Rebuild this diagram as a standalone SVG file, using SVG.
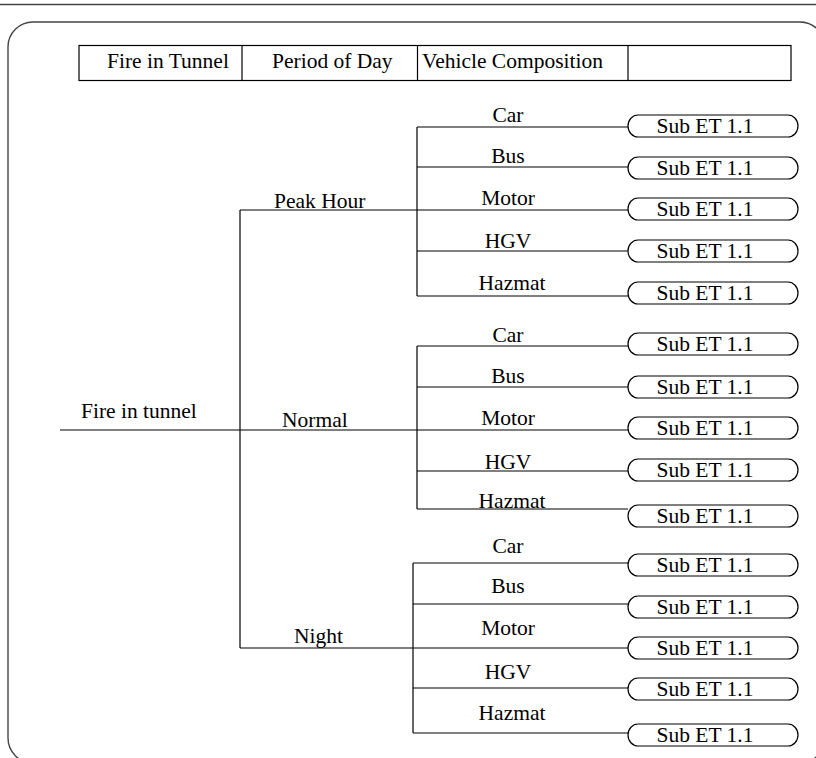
<svg xmlns="http://www.w3.org/2000/svg" width="816" height="758" viewBox="0 0 816 758" font-family="Liberation Serif, Times New Roman, Times, serif">
<style>
text{font-family:'Liberation Serif','Times New Roman',Times,serif;font-size:21.5px;fill:#000}
.m{text-anchor:middle}
.ln{stroke:#000;stroke-width:1.2;fill:none}
.box{fill:#fff;stroke:#000;stroke-width:1.2}
.frame{fill:none;stroke:#444;stroke-width:1.4}
</style>
<rect width="816" height="758" fill="#fff"/>
<line x1="0" y1="4.5" x2="816" y2="4.5" stroke="#444" stroke-width="1.6"/>
<rect class="frame" x="8" y="22" width="817" height="741" rx="25" ry="25"/>
<g id="header">
<rect x="79" y="45.5" width="712" height="35" fill="none" stroke="#000" stroke-width="1.2"/>
<line class="ln" x1="242" y1="45.5" x2="242" y2="80.5"/>
<line class="ln" x1="417.5" y1="45.5" x2="417.5" y2="80.5"/>
<line class="ln" x1="628" y1="45.5" x2="628" y2="80.5"/>
<text x="107" y="68">Fire in Tunnel</text>
<text x="272" y="68">Period of Day</text>
<text x="422" y="68">Vehicle Composition</text>
</g>
<g id="connectors" class="ln">
<line x1="60" y1="430" x2="240" y2="430"/>
<line x1="240" y1="210" x2="240" y2="648"/>
<line x1="240" y1="210" x2="417" y2="210"/>
<line x1="240" y1="430" x2="417" y2="430"/>
<line x1="240" y1="648" x2="413" y2="648"/>
<line x1="417" y1="127" x2="417" y2="296"/>
<line x1="417" y1="127" x2="628" y2="127"/>
<line x1="417" y1="167" x2="628" y2="167"/>
<line x1="417" y1="210" x2="628" y2="210"/>
<line x1="417" y1="251" x2="628" y2="251"/>
<line x1="417" y1="296" x2="628" y2="296"/>
<line x1="417" y1="346" x2="417" y2="509"/>
<line x1="417" y1="346" x2="628" y2="346"/>
<line x1="417" y1="387" x2="628" y2="387"/>
<line x1="417" y1="430" x2="628" y2="430"/>
<line x1="417" y1="471" x2="628" y2="471"/>
<line x1="417" y1="509" x2="628" y2="509"/>
<line x1="413" y1="563" x2="413" y2="733"/>
<line x1="413" y1="563" x2="628" y2="563"/>
<line x1="413" y1="604" x2="628" y2="604"/>
<line x1="413" y1="648" x2="628" y2="648"/>
<line x1="413" y1="688" x2="628" y2="688"/>
<line x1="413" y1="733" x2="628" y2="733"/>
</g>
<g id="root"><text x="81" y="418">Fire in tunnel</text></g>
<g id="peak"><text x="274" y="208">Peak Hour</text></g>
<g id="normal"><text x="282" y="427">Normal</text></g>
<g id="night"><text x="294" y="643">Night</text></g>
<g id="peak-vehicles" class="m">
<text x="508" y="122">Car</text>
<text x="508" y="163">Bus</text>
<text x="508" y="205">Motor</text>
<text x="508" y="248">HGV</text>
<text x="512" y="290">Hazmat</text>
</g>
<g id="normal-vehicles" class="m">
<text x="508" y="342">Car</text>
<text x="508" y="383">Bus</text>
<text x="508" y="425">Motor</text>
<text x="508" y="469">HGV</text>
<text x="512" y="508">Hazmat</text>
</g>
<g id="night-vehicles" class="m">
<text x="508" y="553">Car</text>
<text x="508" y="593">Bus</text>
<text x="508" y="635">Motor</text>
<text x="508" y="679">HGV</text>
<text x="512" y="720">Hazmat</text>
</g>
<g id="subET">
<g id="s1"><rect class="box" x="628" y="115" width="170" height="22" rx="10" ry="11"/><text class="m" x="705" y="133">Sub ET 1.1</text></g>
<g id="s2"><rect class="box" x="628" y="157" width="170" height="22" rx="10" ry="11"/><text class="m" x="705" y="175">Sub ET 1.1</text></g>
<g id="s3"><rect class="box" x="628" y="198" width="170" height="22" rx="10" ry="11"/><text class="m" x="705" y="216">Sub ET 1.1</text></g>
<g id="s4"><rect class="box" x="628" y="240" width="170" height="22" rx="10" ry="11"/><text class="m" x="705" y="258">Sub ET 1.1</text></g>
<g id="s5"><rect class="box" x="628" y="282" width="170" height="22" rx="10" ry="11"/><text class="m" x="705" y="300">Sub ET 1.1</text></g>
<g id="s6"><rect class="box" x="628" y="333" width="170" height="22" rx="10" ry="11"/><text class="m" x="705" y="351">Sub ET 1.1</text></g>
<g id="s7"><rect class="box" x="628" y="376" width="170" height="22" rx="10" ry="11"/><text class="m" x="705" y="394">Sub ET 1.1</text></g>
<g id="s8"><rect class="box" x="628" y="417" width="170" height="22" rx="10" ry="11"/><text class="m" x="705" y="435">Sub ET 1.1</text></g>
<g id="s9"><rect class="box" x="628" y="459" width="170" height="22" rx="10" ry="11"/><text class="m" x="705" y="477">Sub ET 1.1</text></g>
<g id="s10"><rect class="box" x="628" y="505" width="170" height="22" rx="10" ry="11"/><text class="m" x="705" y="523">Sub ET 1.1</text></g>
<g id="s11"><rect class="box" x="628" y="554" width="170" height="22" rx="10" ry="11"/><text class="m" x="705" y="572">Sub ET 1.1</text></g>
<g id="s12"><rect class="box" x="628" y="596" width="170" height="22" rx="10" ry="11"/><text class="m" x="705" y="614">Sub ET 1.1</text></g>
<g id="s13"><rect class="box" x="628" y="637" width="170" height="22" rx="10" ry="11"/><text class="m" x="705" y="655">Sub ET 1.1</text></g>
<g id="s14"><rect class="box" x="628" y="678" width="170" height="22" rx="10" ry="11"/><text class="m" x="705" y="696">Sub ET 1.1</text></g>
<g id="s15"><rect class="box" x="628" y="724" width="170" height="22" rx="10" ry="11"/><text class="m" x="705" y="742">Sub ET 1.1</text></g>
</g>
</svg>
